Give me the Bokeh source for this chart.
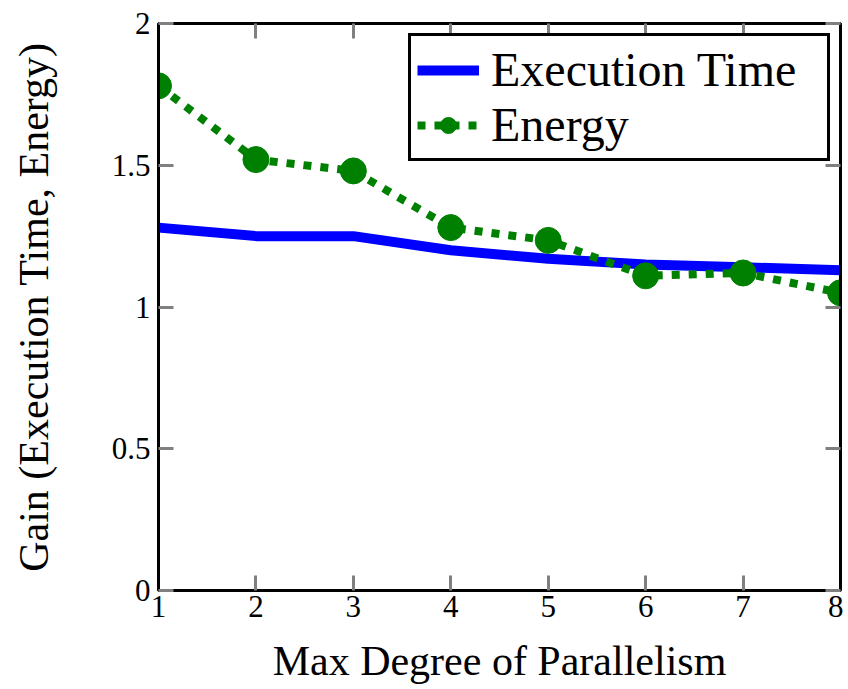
from bokeh.plotting import figure
from bokeh.models import Range1d, FixedTicker, LinearAxis, Legend, LegendItem
from bokeh.embed import file_html
from bokeh.resources import INLINE

# Data
degree = [1, 2, 3, 4, 5, 6, 7, 8]
exec_time = [1.28, 1.25, 1.25, 1.20, 1.17, 1.15, 1.14, 1.13]
energy = [1.78, 1.52, 1.48, 1.28, 1.235, 1.11, 1.12, 1.05]
x_ticks = [1, 2, 3, 4, 5, 6, 7, 8]
y_ticks = [0, 0.5, 1, 1.5, 2]
y_tick_labels = {0: "0", 0.5: "0.5", 1: "1", 1.5: "1.5", 2: "2"}

FONT = "Liberation Serif"

p = figure(width=843, height=688, output_backend="svg", toolbar_location=None,
           x_range=Range1d(1, 8), y_range=Range1d(0, 2),
           min_border_left=158, min_border_top=23, min_border_right=3, min_border_bottom=98)
p.grid.visible = False
p.background_fill_color = "white"
p.border_fill_color = "white"
p.outline_line_color = "black"
p.outline_line_width = 3
p.outline_line_alpha = 1

def style_axis(ax, show_labels=True):
    ax.axis_line_color = "black"
    ax.axis_line_width = 3
    ax.major_tick_in = 15
    ax.major_tick_out = 0
    ax.major_tick_line_color = "#808080"
    ax.major_tick_line_width = 3
    ax.minor_tick_line_color = None
    ax.major_label_text_font = FONT
    ax.major_label_text_font_size = "31px"
    ax.major_label_text_color = "black"
    ax.axis_label_text_font = FONT
    ax.axis_label_text_font_size = "42px"
    ax.axis_label_text_font_style = "normal"
    ax.axis_label_text_color = "black"
    if not show_labels:
        ax.major_label_text_font_size = "0px"
        ax.major_label_text_color = None

xa = p.xaxis[0]
ya = p.yaxis[0]
xa.ticker = FixedTicker(ticks=x_ticks)
ya.ticker = FixedTicker(ticks=y_ticks)
ya.major_label_overrides = y_tick_labels
style_axis(xa)
style_axis(ya)
xa.axis_label = "Max Degree of Parallelism"
ya.axis_label = "Gain (Execution Time, Energy)"
xa.major_label_standoff = 5
ya.major_label_standoff = 8
xa.axis_label_standoff = 18
ya.axis_label_standoff = 52

top = LinearAxis(ticker=FixedTicker(ticks=x_ticks))
right = LinearAxis(ticker=FixedTicker(ticks=y_ticks))
style_axis(top, False)
style_axis(right, False)
p.add_layout(top, "above")
p.add_layout(right, "right")

r1 = p.line(degree, exec_time, line_color="#0000ff", line_width=10)
r2 = p.line(degree, energy, line_color="#008000", line_width=8, line_dash="8 9")
r3 = p.scatter(degree, energy, marker="circle", size=26, fill_color="#008000", line_color="#008000")

legend = Legend(items=[LegendItem(label="Execution Time", renderers=[r1]),
                       LegendItem(label="Energy", renderers=[r2, r3])],
                location="top_right")
legend.border_line_color = "black"
legend.border_line_width = 3
legend.border_line_alpha = 1
legend.background_fill_alpha = 1
legend.label_text_font = FONT
legend.label_text_font_size = "48px"
legend.label_text_line_height = 1.0
legend.label_text_color = "black"
legend.label_height = 40
legend.label_width = 330
legend.glyph_width = 62
legend.glyph_height = 40
legend.label_standoff = 12
legend.padding = 6
legend.spacing = 0
legend.margin = 10
p.add_layout(legend, "center")

open("out.html", "w").write(file_html(p, INLINE))
